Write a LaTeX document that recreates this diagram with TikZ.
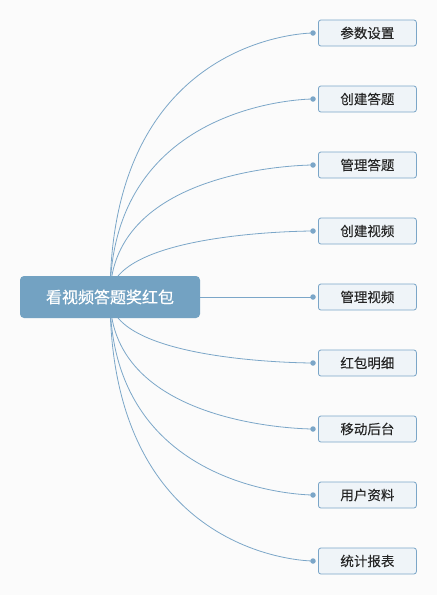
\documentclass[tikz,border=0pt]{standalone}
\usepackage{fontspec}
\setmainfont{Noto Sans CJK SC}
\newfontfamily\rootfont{Noto Sans CJK SC}[FakeBold=0.6]
\newfontfamily\leaffont{Noto Sans CJK SC}[FakeBold=0.12]
\usetikzlibrary{positioning,backgrounds}
\definecolor{rootblue}{HTML}{73A2C2}
\definecolor{linkblue}{HTML}{7BA6C8}
\definecolor{leaffill}{HTML}{EFF4F8}
\definecolor{leaftext}{HTML}{262626}
\definecolor{bgcolor}{HTML}{FBFBFB}
\tikzset{
  rootbox/.style={rectangle,rounded corners=4pt,fill=rootblue,text=white,minimum width=180pt,minimum height=42pt,font=\rootfont\fontsize{16}{19}\selectfont},
  leafbox/.style={rectangle,rounded corners=2.5pt,draw=linkblue,line width=0.8pt,fill=leaffill,text=leaftext,minimum width=98pt,minimum height=26pt,anchor=west,font=\leaffont\fontsize{13.5}{16}\selectfont},
  knob/.style={circle,fill=linkblue,inner sep=0pt,minimum size=5.5pt},
  link/.style={draw=linkblue,line width=0.8pt}
}
\begin{document}
\begin{tikzpicture}[x=1pt,y=-1pt]
  \node[rootbox] (root) at (110,297){看视频答题奖红包};
  % branches
  \node[leafbox] (canshu) at (318,33){参数设置};
  \node[leafbox] (cjdt) at (318,99){创建答题};
  \node[leafbox] (gldt) at (318,165){管理答题};
  \node[leafbox] (cjsp) at (318,231){创建视频};
  \node[leafbox] (glsp) at (318,297){管理视频};
  \node[leafbox] (hbmx) at (318,363){红包明细};
  \node[leafbox] (ydht) at (318,429){移动后台};
  \node[leafbox] (yhzl) at (318,495){用户资料};
  \node[leafbox] (tjbb) at (318,561){统计报表};
  \node[knob] (k1) at (313,33){};
  \node[knob] (k2) at (313,99){};
  \node[knob] (k3) at (313,165){};
  \node[knob] (k4) at (313,231){};
  \node[knob] (k5) at (313,297){};
  \node[knob] (k6) at (313,363){};
  \node[knob] (k7) at (313,429){};
  \node[knob] (k8) at (313,495){};
  \node[knob] (k9) at (313,561){};
  \begin{scope}[on background layer]
  \fill[bgcolor] (0,0) rectangle (437,595);
     \draw[link] (root.center) .. controls (root.center |- k1) and (k1.center) .. (k1.center);
     \draw[link] (root.center) .. controls (root.center |- k2) and (k2.center) .. (k2.center);
     \draw[link] (root.center) .. controls (root.center |- k3) and (k3.center) .. (k3.center);
     \draw[link] (root.center) .. controls (root.center |- k4) and (k4.center) .. (k4.center);
     \draw[link] (root.east) -- (k5.center);
     \draw[link] (root.center) .. controls (root.center |- k6) and (k6.center) .. (k6.center);
     \draw[link] (root.center) .. controls (root.center |- k7) and (k7.center) .. (k7.center);
     \draw[link] (root.center) .. controls (root.center |- k8) and (k8.center) .. (k8.center);
     \draw[link] (root.center) .. controls (root.center |- k9) and (k9.center) .. (k9.center);
  \end{scope}
\end{tikzpicture}
\end{document}
